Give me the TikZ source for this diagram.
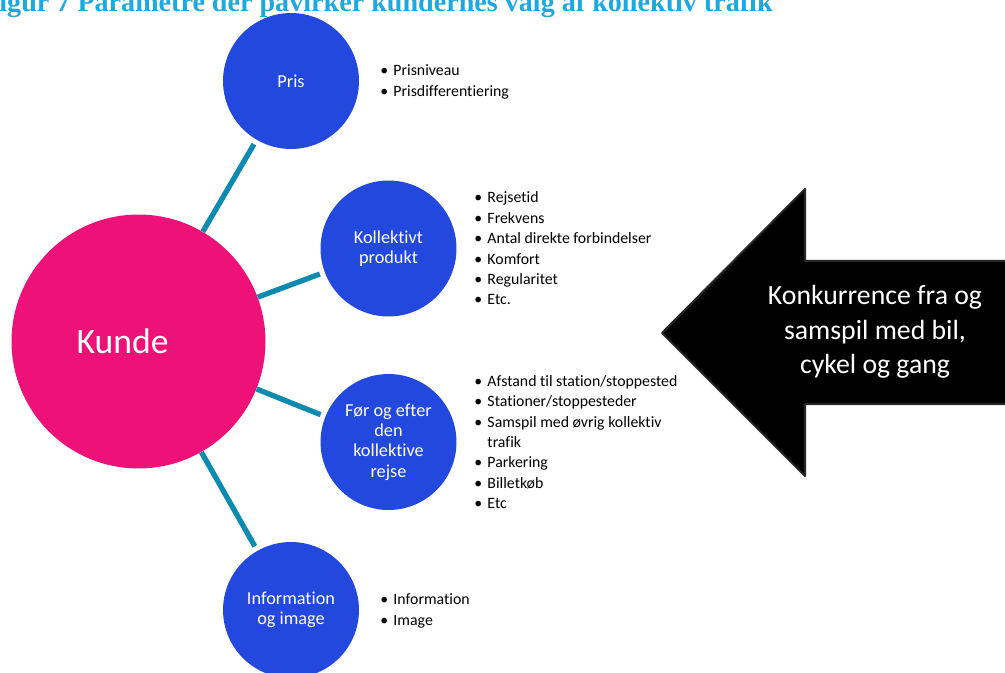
\documentclass[tikz,border=0pt]{standalone}
\usepackage{fontspec}
\setmainfont{Carlito}[Ligatures=NoCommon]
\newfontfamily\titelfont{Liberation Serif}
\definecolor{kundepink}{RGB}{238,17,119}
\definecolor{emneblaa}{RGB}{35,72,221}
\definecolor{linieblaa}{RGB}{12,138,176}
\definecolor{titelblaa}{RGB}{28,168,224}
\newcommand{\punkt}{\textbullet\hspace{3pt}}
\tikzset{
  kunde/.style={circle, fill=kundepink, text=white, minimum size=5.08cm, inner sep=0pt, font=\fontsize{20.3}{24}\selectfont},
  emne/.style={circle, fill=emneblaa, text=white, minimum size=2.72cm, inner sep=0pt, align=center, font=\fontsize{10.4}{11.5}\selectfont},
  punkter/.style={anchor=west, inner sep=0pt, align=left, font=\fontsize{9}{11.6}\selectfont},
  forbindelse/.style={linieblaa, line width=3pt, shorten >=2.8pt},
  pilform/.style={fill=black, draw=black!85, line width=1.2pt, line join=round},
}
\begin{document}
\begin{tikzpicture}[x=0.02cm, y=-0.02cm]
        \useasboundingbox (0,0) rectangle (1005,673);
        \clip (0,0) rectangle (1005,673);

        % Title
        \node (titel) [anchor=base east, inner sep=0pt, text=titelblaa, font=\titelfont\bfseries\fontsize{16}{19}\selectfont] at (773, 11) {Figur 7 Parametre der påvirker kundernes valg af kollektiv trafik};

        % Nodes
        \node (kunde) [kunde] at (138.5, 341.5) {Kunde\kern18pt\relax};
        \node (pris) [emne] at (291, 81) {Pris};
        \node (produkt) [emne] at (388.5, 248.5) {Kollektivt\\produkt};
        \node (rejse) [emne] at (388.5, 442) {Før og efter\\den\\kollektive\\rejse};
        \node (info) [emne] at (291, 610) {Information\\og image};

        % Lists
        \node (prisliste) [punkter] at (380, 82) {\punkt Prisniveau\\\punkt Prisdifferentiering};
        \node (produktliste) [punkter] at (474, 248.5) {\punkt Rejsetid\\\punkt Frekvens\\\punkt Antal direkte forbindelser\\\punkt Komfort\\\punkt Regularitet\\\punkt Etc.};
        \node (rejseliste) [punkter] at (474, 442) {\punkt Afstand til station/stoppested\\\punkt Stationer/stoppesteder\\\punkt Samspil med øvrig kollektiv\\\phantom{\punkt}trafik\\\punkt Parkering\\\punkt Billetkøb\\\punkt Etc};
        \node (infoliste) [punkter] at (380, 611) {\punkt Information\\\punkt Image};

        % Edges
        \draw[forbindelse] (kunde) -- (pris);
        \draw[forbindelse] (kunde) -- (produkt);
        \draw[forbindelse] (kunde) -- (rejse);
        \draw[forbindelse] (kunde) -- (info);

        % Arrow
        \draw[pilform] (1015, 261) -- (805, 261) -- (805, 189) -- (662, 333) -- (805, 476) -- (805, 404) -- (1015, 404) -- cycle;
        \node (konkurrence) [text=white, align=center, font=\fontsize{15.8}{19.6}\selectfont] at (875, 332) {Konkurrence fra og\\samspil med bil,\\cykel og gang};
    \end{tikzpicture}
\end{document}
